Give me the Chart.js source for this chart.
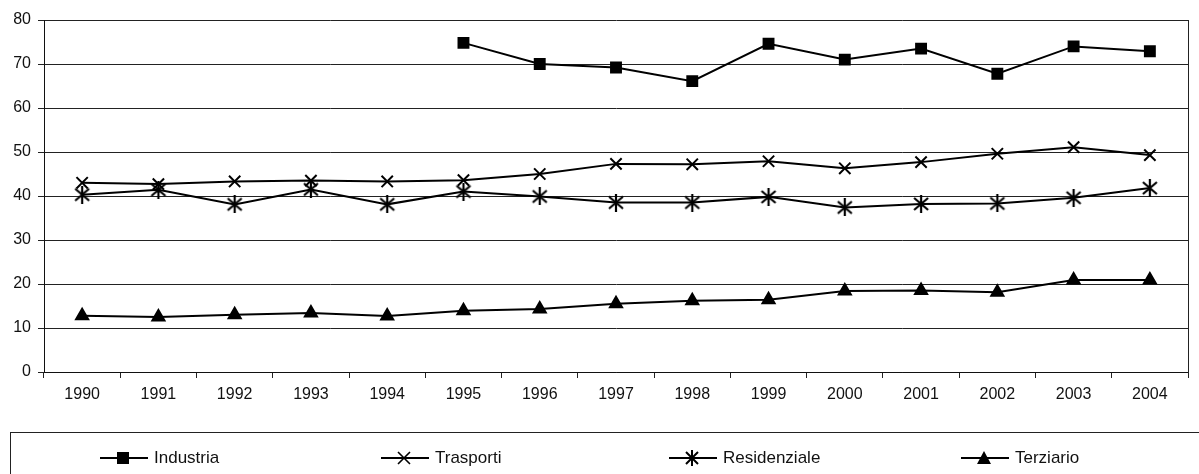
<!DOCTYPE html>
<html>
<head>
<meta charset="utf-8">
<script src="https://cdn.jsdelivr.net/npm/chart.js@4/dist/chart.umd.min.js"></script>
<style>
  html, body { margin: 0; padding: 0; background: #fff; }
  #wrap { position: relative; width: 1199px; height: 474px; overflow: hidden; font-family: "Liberation Sans", Arial, sans-serif; }
  #chart { position: absolute; left: 0; top: 0; }
  #legend { position: absolute; left: 10px; top: 432px; width: 1200px; height: 60px; border: 1px solid #222; box-sizing: border-box; }
  .item { position: absolute; top: 15px; display: flex; align-items: center; font-size: 17px; color: #111; }
  .item svg { margin-right: 4px; }
</style>
</head>
<body>
<div id="wrap">
  <canvas id="chart" width="1199" height="474"></canvas>
  <div id="legend"></div>
</div>
<script>
// dati
const anni = ['1990','1991','1992','1993','1994','1995','1996','1997','1998','1999','2000','2001','2002','2003','2004'];
const industria = [null, null, null, null, null, 74.8, 70, 69.2, 66.1, 74.6, 71, 73.5, 67.8, 74, 72.9];
const trasporti = [43, 42.7, 43.3, 43.5, 43.3, 43.6, 45, 47.3, 47.2, 47.9, 46.3, 47.7, 49.6, 51.1, 49.3];
const residenziale = [40.3, 41.4, 38.1, 41.5, 38.1, 41, 39.9, 38.5, 38.5, 39.8, 37.4, 38.2, 38.3, 39.6, 41.8];
const terziario = [12.8, 12.5, 13, 13.4, 12.7, 13.9, 14.3, 15.5, 16.2, 16.4, 18.4, 18.5, 18.1, 20.9, 20.9];
const nomi = ['Industria', 'Trasporti', 'Residenziale', 'Terziario'];
const stili = ['rect', 'crossRot', 'asterisco', 'triangle'];
const raggi = [7, 8, 8, 7];
const legendaX = [87, 368, 656, 948];

const serie = [industria, trasporti, residenziale, terziario];

// asterisco a 6 bracci (X + barra verticale), come nel grafico originale
function asterisco() {
  const c = document.createElement('canvas');
  c.width = 18; c.height = 18;
  const g = c.getContext('2d');
  g.strokeStyle = '#000';
  g.lineWidth = 2.2;
  g.beginPath();
  g.moveTo(2, 3); g.lineTo(16, 15);
  g.moveTo(16, 3); g.lineTo(2, 15);
  g.moveTo(9, 0); g.lineTo(9, 18);
  g.stroke();
  return c;
}
const stileAsterisco = asterisco();

const datasets = serie.map((d, i) => ({
  label: nomi[i],
  data: d,
  borderColor: '#000',
  backgroundColor: '#000',
  borderWidth: 2,
  pointStyle: stili[i] === 'asterisco' ? stileAsterisco : stili[i],
  pointRadius: raggi[i],
  pointBorderWidth: 2,
  pointBorderColor: '#000',
  pointBackgroundColor: '#000',
  tension: 0,
  spanGaps: false
}));

// bordo destro dell'area del grafico
const bordoDestro = {
  id: 'bordoDestro',
  afterDraw(chart) {
    const a = chart.chartArea, ctx = chart.ctx;
    ctx.save();
    ctx.strokeStyle = '#222';
    ctx.lineWidth = 1;
    ctx.beginPath();
    ctx.moveTo(Math.round(a.right) + 0.5, a.top);
    ctx.lineTo(Math.round(a.right) + 0.5, a.bottom + 6);
    ctx.stroke();
    ctx.restore();
  }
};

new Chart(document.getElementById('chart'), {
  type: 'line',
  data: { labels: anni, datasets },
  options: {
    responsive: false,
    animation: false,
    layout: { padding: { top: 20, right: 11, left: 0, bottom: 0 } },
    plugins: { legend: { display: false }, tooltip: { enabled: false } },
    scales: {
      x: {
        offset: true,
        grid: { offset: true, drawOnChartArea: false, drawTicks: true, tickLength: 6, color: '#222' },
        border: { color: '#111', width: 1 },
        ticks: { color: '#111', font: { family: 'Liberation Sans', size: 16 }, padding: 7, maxRotation: 0 },
        afterFit(s) { s.height = 102; }
      },
      y: {
        min: 0, max: 80,
        grid: { color: '#222', lineWidth: 1, tickLength: 6 },
        border: { color: '#111', width: 1 },
        ticks: { stepSize: 10, color: '#111', font: { family: 'Liberation Sans', size: 16 }, padding: 7 },
        afterFit(s) { s.width = 44; }
      }
    }
  },
  plugins: [bordoDestro]
});

// legenda
function icona(stile) {
  let m = '';
  if (stile === 'rect') m = '<rect x="19" y="4" width="12" height="12" fill="#000"/>';
  if (stile === 'crossRot') m = '<path d="M19 4 L31 16 M31 4 L19 16" stroke="#000" stroke-width="1.6"/>';
  if (stile === 'asterisco') m = '<path d="M19 4 L31 16 M31 4 L19 16 M25 2 L25 18" stroke="#000" stroke-width="2"/>';
  if (stile === 'triangle') m = '<path d="M25 3 L32 16 L18 16 Z" fill="#000"/>';
  return '<svg width="52" height="20"><line x1="2" y1="10" x2="50" y2="10" stroke="#000" stroke-width="2"/>' + m + '</svg>';
}
const leg = document.getElementById('legend');
leg.innerHTML = nomi.map((n, i) =>
  `<div class="item" style="left:${legendaX[i]}px">${icona(stili[i])}<span>${n}</span></div>`
).join('');
</script>
</body>
</html>
